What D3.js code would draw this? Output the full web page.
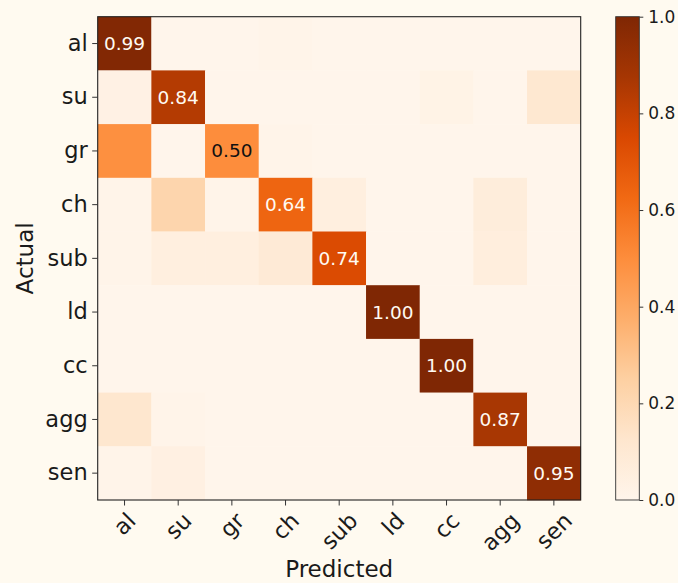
<!DOCTYPE html>
<html>
<head>
<meta charset="utf-8">
<script src="https://cdn.jsdelivr.net/npm/d3@7"></script>
<style>
  html, body { margin: 0; padding: 0; background: #fffaf0; }
  svg { display: block; font-family: "DejaVu Sans", sans-serif; }
</style>
</head>
<body>
<svg id="chart" width="678" height="583"></svg>
<script>
// Class names (rows = actual, columns = predicted)
const categories = ["al", "su", "gr", "ch", "sub", "ld", "cc", "agg", "sen"];

// Row-normalised confusion rates, one array per actual class
const rowAl  = [0.99, 0.00, 0.00, 0.01, 0.00, 0.00, 0.00, 0.00, 0.00];
const rowSu  = [0.03, 0.84, 0.00, 0.00, 0.00, 0.00, 0.02, 0.00, 0.11];
const rowGr  = [0.49, 0.00, 0.50, 0.01, 0.00, 0.00, 0.00, 0.00, 0.00];
const rowCh  = [0.01, 0.22, 0.01, 0.64, 0.05, 0.00, 0.00, 0.07, 0.00];
const rowSub = [0.01, 0.05, 0.05, 0.09, 0.74, 0.00, 0.00, 0.06, 0.00];
const rowLd  = [0.00, 0.00, 0.00, 0.00, 0.00, 1.00, 0.00, 0.00, 0.00];
const rowCc  = [0.00, 0.00, 0.00, 0.00, 0.00, 0.00, 1.00, 0.00, 0.00];
const rowAgg = [0.12, 0.01, 0.00, 0.00, 0.00, 0.00, 0.00, 0.87, 0.00];
const rowSen = [0.01, 0.04, 0.00, 0.00, 0.00, 0.00, 0.00, 0.00, 0.95];

// Colour bar tick values
const colorbarTicks = [0.0, 0.2, 0.4, 0.6, 0.8, 1.0];

const matrix = [rowAl, rowSu, rowGr, rowCh, rowSub, rowLd, rowCc, rowAgg, rowSen];

// "Oranges" sequential palette, piecewise linear between the nine stops
const orangeStops = ["#fff5eb", "#fee6ce", "#fdd0a2", "#fdae6b", "#fd8d3c",
                     "#f16913", "#d94801", "#a63603", "#7f2704"];
const color = d3.scaleLinear()
  .domain(orangeStops.map((_, i) => i / (orangeStops.length - 1)))
  .range(orangeStops)
  .interpolate(d3.interpolateRgb)
  .clamp(true);

const svg = d3.select("#chart");
const W = 678, H = 583;
svg.append("rect").attr("width", W).attr("height", H).attr("fill", "#fffaf0");

// Heatmap area
const x0 = 97.7, x1 = 580.7, y0 = 16.7, y1 = 500;
const x = d3.scaleBand().domain(categories).range([x0, x1]).padding(0);
const y = d3.scaleBand().domain(categories).range([y0, y1]).padding(0);

const cells = [];
matrix.forEach((row, i) => row.forEach((v, j) => {
  cells.push({ actual: categories[i], predicted: categories[j], value: v, diag: i === j });
}));

const g = svg.append("g");
g.selectAll("rect.cell")
  .data(cells)
  .join("rect")
  .attr("class", "cell")
  .attr("x", d => x(d.predicted))
  .attr("y", d => y(d.actual))
  .attr("width", x.bandwidth() + 0.3)
  .attr("height", y.bandwidth() + 0.3)
  .attr("fill", d => color(d.value));

// Value labels on the diagonal
const threshold = 0.5;
g.selectAll("text.val")
  .data(cells.filter(d => d.diag))
  .join("text")
  .attr("class", "val")
  .attr("x", d => x(d.predicted) + x.bandwidth() / 2)
  .attr("y", d => y(d.actual) + y.bandwidth() / 2)
  .attr("text-anchor", "middle")
  .attr("dominant-baseline", "central")
  .attr("font-size", 18.5)
  .attr("fill", d => d.value > threshold ? "#fffaf2" : "#111111")
  .text(d => d.value.toFixed(2));

// Frame
svg.append("rect")
  .attr("x", x0).attr("y", y0)
  .attr("width", x1 - x0).attr("height", y1 - y0)
  .attr("fill", "none").attr("stroke", "#222").attr("stroke-width", 1.1);

// Left axis
const tickFs = 22.5;
const yAxis = svg.append("g")
  .attr("transform", `translate(${x0},0)`)
  .call(d3.axisLeft(y).tickSize(5.5).tickPadding(4.5).tickSizeOuter(0));
yAxis.select(".domain").remove();
yAxis.selectAll(".tick line").attr("stroke", "#333");
yAxis.selectAll(".tick text")
  .attr("font-size", tickFs)
  .attr("font-family", "DejaVu Sans, sans-serif")
  .attr("fill", "#1a1a1a");

// Bottom axis with labels rotated 45 degrees, centred under each tick
const xAxis = svg.append("g")
  .attr("transform", `translate(0,${y1})`)
  .call(d3.axisBottom(x).tickSize(5.5).tickSizeOuter(0));
xAxis.select(".domain").remove();
xAxis.selectAll(".tick line").attr("stroke", "#333");
const labelGap = 9;
xAxis.selectAll(".tick text")
  .attr("font-size", tickFs)
  .attr("font-family", "DejaVu Sans, sans-serif")
  .attr("fill", "#1a1a1a")
  .each(function () {
    const t = d3.select(this);
    const w = this.getComputedTextLength();
    const h = tickFs * 0.95;
    const half = (w + h) * Math.SQRT1_2 / 2;
    t.attr("y", 0).attr("dy", null)
      .attr("text-anchor", "middle")
      .attr("dominant-baseline", "central")
      .attr("transform", `translate(0,${labelGap + half}) rotate(-45)`);
  });

// Axis titles
svg.append("text")
  .attr("x", (x0 + x1) / 2).attr("y", 577)
  .attr("text-anchor", "middle")
  .attr("font-size", 23).attr("fill", "#1a1a1a")
  .text("Predicted");
svg.append("text")
  .attr("transform", `translate(33,${(y0 + y1) / 2}) rotate(-90)`)
  .attr("text-anchor", "middle")
  .attr("font-size", 23).attr("fill", "#1a1a1a")
  .text("Actual");

// Colour bar
const cbX = 615.7, cbW = 23.6;
const cbScale = d3.scaleLinear().domain([0, 1]).range([y1, y0]);
const defs = svg.append("defs");
const grad = defs.append("linearGradient")
  .attr("id", "cbGrad").attr("x1", 0).attr("y1", 1).attr("x2", 0).attr("y2", 0);
grad.selectAll("stop")
  .data(orangeStops)
  .join("stop")
  .attr("offset", (_, i) => i / (orangeStops.length - 1))
  .attr("stop-color", d => d);
svg.append("rect")
  .attr("x", cbX).attr("y", y0)
  .attr("width", cbW).attr("height", y1 - y0)
  .attr("fill", "url(#cbGrad)")
  .attr("stroke", "#333").attr("stroke-width", 0.9);

const cbAxis = svg.append("g")
  .attr("transform", `translate(${cbX + cbW},0)`)
  .call(d3.axisRight(cbScale).tickValues(colorbarTicks)
    .tickFormat(d3.format(".1f")).tickSize(4).tickPadding(5).tickSizeOuter(0));
cbAxis.select(".domain").remove();
cbAxis.selectAll(".tick line").attr("stroke", "#333");
cbAxis.selectAll(".tick text")
  .attr("font-size", 17)
  .attr("font-family", "DejaVu Sans, sans-serif")
  .attr("fill", "#1a1a1a");
</script>
</body>
</html>
